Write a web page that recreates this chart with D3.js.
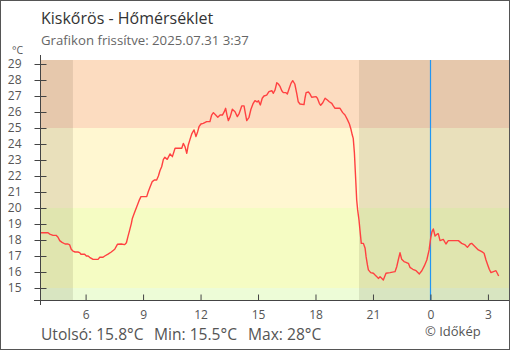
<!DOCTYPE html>
<html>
<head>
<meta charset="utf-8">
<script src="https://cdn.jsdelivr.net/npm/d3@7"></script>
<style>
  html, body { margin: 0; padding: 0; background: #fff; }
  svg { display: block; font-family: "Open Sans", "Noto Sans", sans-serif; }
</style>
</head>
<body>
<script>
// ---- data (hours since 2025-07-30 00:00, temperature in °C) ----
const hours = [3.67,4.04,4.13,4.30,4.46,4.56,4.65,4.77,4.93,5.08,5.17,5.25,5.34,5.45,5.60,5.69,5.76,5.95,6.04,6.13,6.21,6.39,6.65,6.74,6.91,7.00,7.17,7.34,7.52,7.66,7.86,8.04,8.13,8.21,8.30,8.39,8.44,8.54,8.67,8.79,8.89,9.19,9.27,9.36,9.48,9.59,9.71,9.80,9.88,9.97,10.06,10.14,10.26,10.41,10.53,10.67,11.02,11.10,11.19,11.28,11.36,11.45,11.54,11.66,11.76,11.85,11.92,12.02,12.14,12.32,12.49,12.58,12.67,12.79,12.90,13.02,13.14,13.24,13.31,13.38,13.45,13.55,13.66,13.80,13.92,14.02,14.15,14.27,14.34,14.41,14.53,14.63,14.75,14.84,14.95,15.02,15.12,15.22,15.31,15.45,15.57,15.72,15.80,15.89,15.98,16.06,16.15,16.24,16.32,16.46,16.53,16.63,16.72,16.81,16.92,17.02,17.10,17.19,17.40,17.45,17.51,17.63,17.71,17.80,18.03,18.10,18.20,18.27,18.38,18.50,18.62,18.72,18.85,18.93,19.02,19.28,19.42,19.54,19.66,19.77,19.85,19.92,19.97,20.03,20.10,20.15,20.20,20.27,20.32,20.39,20.50,20.59,20.64,20.71,20.76,20.88,21.02,21.11,21.20,21.28,21.37,21.49,21.54,21.68,21.89,22.15,22.24,22.32,22.41,22.50,22.62,22.76,22.85,22.93,23.08,23.25,23.42,23.55,23.68,23.81,23.93,24.01,24.08,24.15,24.24,24.36,24.41,24.50,24.67,24.81,24.93,25.46,25.63,25.81,25.93,26.07,26.15,26.33,26.50,26.68,26.80,26.90,26.99,27.07,27.16,27.42,27.49,27.56];
const temps = [18.45,18.45,18.37,18.29,18.29,18.17,17.96,17.85,17.75,17.75,17.69,17.42,17.31,17.25,17.25,17.21,17.11,17.11,17.0,17.0,16.92,16.79,16.79,16.92,16.92,17.0,17.12,17.25,17.42,17.73,17.75,17.71,17.83,18.21,18.62,19.04,19.35,19.67,20.08,20.46,20.71,20.71,21.02,21.29,21.65,21.75,21.75,22.0,22.33,22.58,23.04,23.17,23.04,23.38,23.21,23.73,23.73,24.04,23.83,23.42,23.94,24.29,24.63,24.88,24.46,24.77,25.08,25.25,25.29,25.4,25.4,25.81,25.96,25.81,25.67,25.81,25.81,26.02,26.23,25.81,25.46,25.71,26.17,26.02,25.71,25.92,26.38,26.38,25.92,25.46,25.67,26.17,26.54,26.71,26.63,26.71,26.44,26.86,27.0,27.06,27.27,27.33,27.17,27.38,27.83,27.75,27.6,27.33,27.21,27.21,27.13,27.48,27.79,27.96,27.75,27.17,26.64,26.5,26.46,26.86,27.21,27.25,27.13,26.92,26.96,26.86,26.54,26.42,26.58,26.86,26.75,26.64,26.54,26.38,26.23,26.23,25.96,25.81,25.54,25.25,24.92,24.56,24.35,23.46,21.75,20.5,19.88,19.25,18.63,17.79,17.79,17.48,16.96,16.44,16.13,15.96,15.92,15.81,15.71,15.6,15.71,15.56,15.5,15.92,15.96,16.02,16.33,16.75,17.2,16.79,16.65,16.58,16.54,16.29,16.17,16.08,15.88,16.08,16.38,16.75,17.38,18.1,18.52,18.69,18.25,18.38,18.4,17.96,18.04,17.75,17.96,17.96,17.79,17.69,17.54,17.75,17.79,17.58,17.38,17.27,17.17,16.75,16.44,16.17,15.96,16.08,15.92,15.75];

const yTickValues = [15,16,17,18,19,20,21,22,23,24,25,26,27,28,29];
const xTickHours  = [6,9,12,15,18,21,24,27];
const xTickLabels = ["6","9","12","15","18","21","0","3"];
const bandEdges   = [14.25, 15, 20, 25, 29.25];
const nightSpans  = [[3.62, 5.34], [20.27, 28.10]];
const nowHour     = 24;
const yDomain     = [14.25, 29.25];
const xDomain     = [3.62, 28.10];

const titleText    = "Kiskőrös - Hőmérséklet";
const subtitleText = "Grafikon frissítve: 2025.07.31 3:37";
const statTexts    = ["Utolsó: 15.8°C", "Min: 15.5°C", "Max: 28°C"];
const creditText   = "© Időkép";

// ---- styles ----
const bandColors = ["#edfcd7", "#f5fcc3", "#fff7d1", "#fcdcc0"];

const W = 510, H = 350;
const svg = d3.select("body").append("svg").attr("width", W).attr("height", H);

svg.append("rect").attr("width", W).attr("height", H).attr("fill", "#fff");

const x = d3.scaleLinear().domain(xDomain).range([40, 509]);
const y = d3.scaleLinear().domain(yDomain).range([300, 60]);

// bands
svg.append("g").selectAll("rect")
  .data(d3.range(bandEdges.length - 1))
  .join("rect")
  .attr("x", x(xDomain[0]))
  .attr("width", x(xDomain[1]) - x(xDomain[0]))
  .attr("y", i => y(bandEdges[i + 1]))
  .attr("height", i => y(bandEdges[i]) - y(bandEdges[i + 1]))
  .attr("fill", i => bandColors[i]);

// night shading
svg.append("g").selectAll("rect")
  .data(nightSpans)
  .join("rect")
  .attr("x", d => x(d[0]))
  .attr("width", d => x(d[1]) - x(d[0]))
  .attr("y", y(yDomain[1]))
  .attr("height", y(yDomain[0]) - y(yDomain[1]))
  .attr("fill", "rgba(40,30,0,0.1)");

// now line
svg.append("line")
  .attr("x1", Math.round(x(nowHour)) + 0.5).attr("x2", Math.round(x(nowHour)) + 0.5)
  .attr("y1", y(yDomain[1])).attr("y2", y(yDomain[0]))
  .attr("stroke", "#2196f3").attr("stroke-width", 1.2);

// temperature line
const data = hours.map((h, i) => ({ h, t: temps[i] }));
svg.append("path")
  .datum(data)
  .attr("fill", "none")
  .attr("stroke", "#ff4141")
  .attr("stroke-width", 1.4)
  .attr("stroke-linejoin", "round")
  .attr("d", d3.line().x(d => x(d.h)).y(d => y(d.t)));

// y axis
const gy = svg.append("g").attr("transform", "translate(40.5,0)")
  .call(d3.axisLeft(y).tickValues(yTickValues).tickSize(6).tickPadding(13));
gy.select(".domain").remove();
gy.selectAll(".tick line").attr("x1", 6).attr("stroke", "#444");
gy.selectAll(".tick text").attr("fill", "#555").style("font-size", "12px")
  .style("font-family", "'Open Sans', sans-serif");
svg.append("line").attr("x1", 40.5).attr("x2", 40.5).attr("y1", 55).attr("y2", 305)
  .attr("stroke", "#444");

// x axis
const gx = svg.append("g").attr("transform", "translate(0,300.5)")
  .call(d3.axisBottom(x).tickValues(xTickHours).tickFormat((d, i) => xTickLabels[i])
    .tickSizeInner(-6).tickSizeOuter(0).tickPadding(10));
gx.select(".domain").remove();
gx.selectAll(".tick line").attr("stroke", "#444");
gx.selectAll(".tick text").attr("fill", "#555").style("font-size", "12px")
  .style("font-family", "'Open Sans', sans-serif");
svg.append("line").attr("x1", 34).attr("x2", 509).attr("y1", 300.5).attr("y2", 300.5)
  .attr("stroke", "#444");

// texts
svg.append("text").attr("x", 41).attr("y", 24).text(titleText)
  .attr("fill", "#333").style("font-size", "16px");
svg.append("text").attr("x", 41).attr("y", 45).text(subtitleText)
  .attr("fill", "#666").style("font-size", "13.2px");
svg.append("text").attr("x", 12).attr("y", 53.5).text("°C")
  .attr("fill", "#555").style("font-size", "10.5px");

const statX = [41, 154, 248];
svg.append("g").selectAll("text").data(statTexts).join("text")
  .attr("x", (d, i) => statX[i]).attr("y", 340)
  .attr("fill", "#555").style("font-size", "15.6px")
  .text(d => d);
svg.append("text").attr("x", 425).attr("y", 336).text(creditText)
  .attr("fill", "#555").style("font-size", "13px");

// frame
svg.append("rect").attr("x", 0.5).attr("y", 0.5).attr("width", W - 1).attr("height", H - 1)
  .attr("fill", "none").attr("stroke", "#555");
</script>
</body>
</html>
